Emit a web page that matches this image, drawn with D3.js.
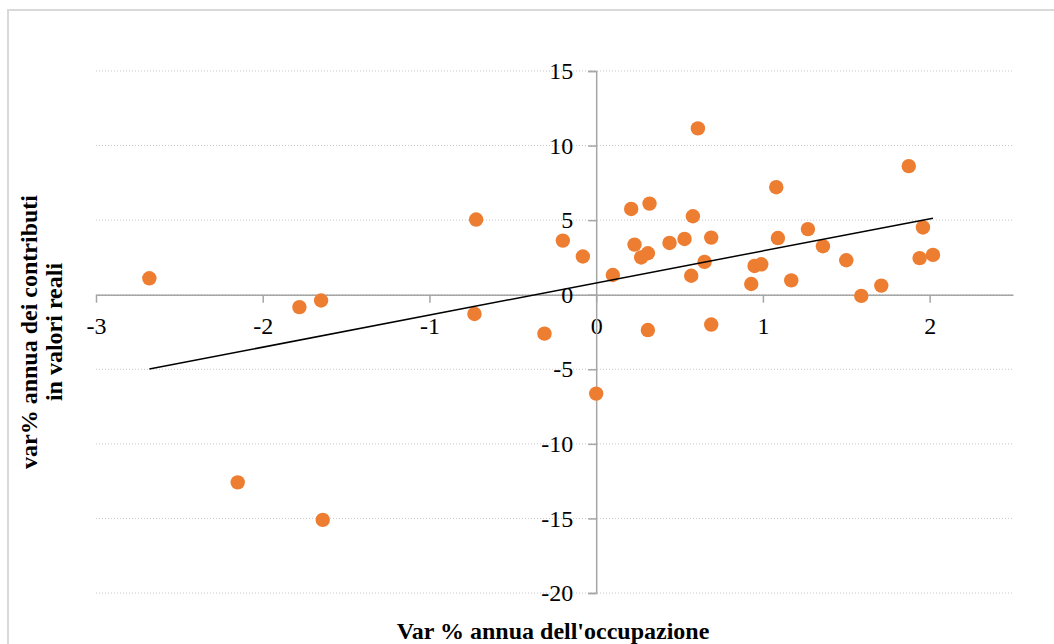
<!DOCTYPE html>
<html>
<head>
<meta charset="utf-8">
<script src="https://cdn.jsdelivr.net/npm/d3@7/dist/d3.min.js"></script>
<style>
  html, body { margin: 0; padding: 0; background: #fff; }
  svg { display: block; }
  text { font-family: "Liberation Serif", "Times New Roman", serif; fill: #000; }
</style>
</head>
<body>
<svg id="chart" width="1054" height="644"></svg>
<script>
// Data
const occupazione = [-2.68, -1.78, -1.65, -2.15, -1.64, -0.72, -0.73, -0.31, -0.20, -0.08,
  0.00, 0.10, 0.21, 0.23, 0.27, 0.31, 0.32, 0.31, 0.44, 0.53,
  0.58, 0.57, 0.61, 0.65, 0.69, 0.69, 0.93, 0.95, 0.99, 1.08,
  1.09, 1.17, 1.27, 1.36, 1.50, 1.59, 1.71, 1.875, 1.94, 1.96, 2.02];
const contributi = [1.10, -0.83, -0.39, -12.58, -15.10, 5.04, -1.29, -2.61, 3.63, 2.56,
  -6.63, 1.32, 5.75, 3.36, 2.50, 2.78, 6.11, -2.37, 3.47, 3.74,
  5.26, 1.27, 11.15, 2.20, 3.83, -2.00, 0.72, 1.93, 2.04, 7.21,
  3.80, 0.96, 4.40, 3.25, 2.31, -0.08, 0.61, 8.62, 2.45, 4.51, 2.67];
const xTicks = [-3, -2, -1, 0, 1, 2];
const yTicks = [-20, -15, -10, -5, 0, 5, 10, 15];
const xTitle = "Var % annua dell'occupazione";
const yTitleLines = ["var% annua dei contributi", "in valori reali"];

const svg = d3.select("#chart");

// chart border (extends beyond right/bottom)
svg.append("rect")
  .attr("x", 8).attr("y", 10).attr("width", 1060).attr("height", 660)
  .attr("fill", "#fff").attr("stroke", "#d9d9d9").attr("stroke-width", 2);

const x = d3.scaleLinear().domain([-3, 2.5]).range([96, 1013]);
const y = d3.scaleLinear().domain([-20, 15]).range([593, 71]);
const fmt = d => String(d);

// gridlines
svg.append("g").selectAll("line").data(yTicks).join("line")
  .attr("x1", x(-3)).attr("x2", x(2.5))
  .attr("y1", d => y(d)).attr("y2", d => y(d))
  .attr("stroke", "#c8c8c8").attr("stroke-width", 1)
  .attr("stroke-dasharray", "1,2");

// x axis at y=0
const xAxis = d3.axisBottom(x).tickValues(xTicks).tickFormat(fmt)
  .tickSizeInner(8).tickSizeOuter(0).tickPadding(14);
const gx = svg.append("g").attr("transform", `translate(0,${y(0)})`).call(xAxis);
gx.select(".domain").attr("stroke", "#a6a6a6").attr("stroke-width", 1.5);
gx.selectAll(".tick line").attr("stroke", "#a6a6a6").attr("stroke-width", 1.5);
gx.selectAll(".tick text").attr("font-size", 24).attr("font-family", "Liberation Serif").attr("fill", "#000");

// y axis at x=0
const yAxis = d3.axisLeft(y).tickValues(yTicks).tickFormat(fmt)
  .tickSizeInner(8).tickSizeOuter(8).tickPadding(15);
const gy = svg.append("g").attr("transform", `translate(${x(0)},0)`).call(yAxis);
gy.select(".domain").attr("stroke", "#a6a6a6").attr("stroke-width", 1.5).attr("fill", "none");
gy.selectAll(".tick line").attr("stroke", "#a6a6a6").attr("stroke-width", 1.5);
gy.selectAll(".tick text").attr("font-size", 24).attr("font-family", "Liberation Serif").attr("fill", "#000");

// points
const pts = occupazione.map((v, i) => ({ x: v, y: contributi[i] }));
svg.append("g").selectAll("circle").data(pts).join("circle")
  .attr("cx", d => x(d.x)).attr("cy", d => y(d.y)).attr("r", 7.2)
  .attr("fill", "#ED7D31");

// linear trendline (least squares) across the data range
const mx = d3.mean(pts, d => d.x), my = d3.mean(pts, d => d.y);
const sxy = d3.sum(pts, d => (d.x - mx) * (d.y - my));
const sxx = d3.sum(pts, d => (d.x - mx) ** 2);
const slope = sxy / sxx, intercept = my - slope * mx;
const [x0, x1] = d3.extent(occupazione);
svg.append("line")
  .attr("x1", x(x0)).attr("y1", y(intercept + slope * x0))
  .attr("x2", x(x1)).attr("y2", y(intercept + slope * x1))
  .attr("stroke", "#000").attr("stroke-width", 1.5);

// axis titles
svg.append("text")
  .attr("x", 553).attr("y", 639)
  .attr("text-anchor", "middle").attr("font-weight", "bold").attr("font-size", 24)
  .text(xTitle);

const yt = svg.append("text")
  .attr("transform", "translate(37,332) rotate(-90)")
  .attr("text-anchor", "middle").attr("font-weight", "bold").attr("font-size", 24);
yt.selectAll("tspan").data(yTitleLines).join("tspan")
  .attr("x", 0).attr("dy", (d, i) => i === 0 ? 0 : 25)
  .text(d => d);
</script>
</body>
</html>
